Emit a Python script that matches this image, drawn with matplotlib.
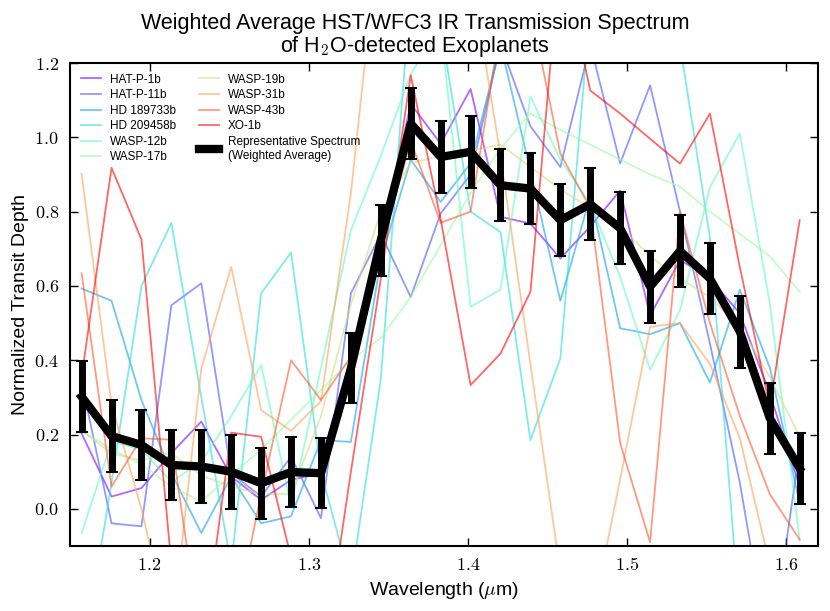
import numpy as np
import matplotlib
matplotlib.use("Agg")
import matplotlib.pyplot as plt
from matplotlib.ticker import FuncFormatter, MultipleLocator

plt.rcParams['font.family'] = ['Liberation Sans', 'DejaVu Sans']
plt.rcParams['mathtext.fontset'] = 'cm'

wavelength = [1.1573, 1.1761, 1.1949, 1.2137, 1.2325, 1.2513, 1.2701, 1.2889,
              1.3077, 1.3265, 1.3453, 1.3641, 1.3829, 1.4017, 1.4205, 1.4393,
              1.4581, 1.4769, 1.4957, 1.5145, 1.5333, 1.5521, 1.5709, 1.5897, 1.6085]

planets = ['HAT-P-1b', 'HAT-P-11b', 'HD 189733b', 'HD 209458b', 'WASP-12b',
           'WASP-17b', 'WASP-19b', 'WASP-31b', 'WASP-43b', 'XO-1b']

hat_p_1b = [0.203, 0.033, 0.056, 0.15, 0.235, 0.087, 0.024, 0.078, 0.096, 0.38, 0.72, 1.09, 0.983,
            1.13, 0.786, 0.768, 0.674, 0.76, 0.857, 0.52, 0.67, 0.62, 0.526, 0.31, 0.06]
hat_p_11b = [0.342, -0.039, -0.047, 0.548, 0.607, 0.096, 0.033, 0.14, -0.025, 0.58, 0.74, 0.57, 0.795,
             0.90, 1.25, 1.03, 0.92, 1.25, 0.93, 1.14, 0.80, 0.445, 0.07, -0.4, 0.16]
hd_189733b = [0.593, 0.56, 0.293, 0.096, -0.065, 0.087, -0.039, -0.02, 0.185, 0.18, 0.67, 0.94, 0.826,
              0.93, 1.25, 0.91, 0.56, 0.84, 0.486, 0.47, 0.50, 0.34, 0.59, 0.38, 0.015]
hd_209458b = [-0.42, 0.07, 0.6, 0.77, 0.3, -0.15, 0.58, 0.69, 0.1, -0.2, 0.35, 1.4, 1.3,
              0.80, 0.745, 0.185, 0.405, 1.35, 1.3, 1.3, 1.25, 0.73, -0.3, -0.4, -0.2]
wasp_12b = [-0.065, 0.18, 0.16, 0.073, 0.127, 0.25, 0.387, 0.006, 0.38, 0.75, 0.95, 1.17, 1.3,
            0.544, 0.59, 1.11, 0.94, 0.82, 0.625, 0.374, 0.535, 0.866, 1.01, 0.553, -0.083]
wasp_17b = [0.21, 0.16, 0.12, 0.06, 0.02, 0.09, 0.16, 0.24, 0.32, 0.40, 0.46, 0.57, 0.71,
            0.85, 0.97, 1.064, 1.02, 0.98, 0.94, 0.90, 0.867, 0.80, 0.74, 0.68, 0.584]
wasp_19b = [0.21, 0.15, 0.13, 0.15, 0.09, 0.06, 0.04, 0.04, 0.25, 0.55, 0.80, 0.93, 0.95,
            0.965, 0.98, 0.92, 0.86, 0.81, 0.76, 0.68, 0.62, 0.57, 0.49, 0.355, 0.195]
wasp_31b = [0.902, 0.28, 0.0, -0.35, 0.378, 0.651, 0.266, 0.21, 0.29, 0.85, 1.6, 1.25, 1.3,
            1.45, 0.95, 0.39, -0.17, -0.32, 0.08, 0.49, 0.50, 0.39, 0.19, -0.15, -0.4]
wasp_43b = [0.634, 0.06, 0.19, 0.186, -0.37, -0.35, 0.04, 0.40, 0.293, 0.41, 0.70, 0.99, 0.77,
            0.80, 1.3, 1.35, 0.956, 0.81, 0.177, -0.09, 0.80, 0.50, 0.25, 0.04, -0.083]
xo_1b = [0.356, 0.918, 0.725, -0.15, -0.4, 0.205, 0.194, -0.13, -0.445, 0.1, 0.62, 1.167, 0.78,
         0.333, 0.418, 0.584, 1.5, 1.126, 1.064, 0.996, 0.929, 1.064, 0.65, 0.275, 0.777]

series = [hat_p_1b, hat_p_11b, hd_189733b, hd_209458b, wasp_12b,
          wasp_17b, wasp_19b, wasp_31b, wasp_43b, xo_1b]

representative = [0.302, 0.196, 0.172, 0.118, 0.114, 0.10, 0.069, 0.099, 0.096, 0.378, 0.723, 1.037,
                  0.947, 0.961, 0.871, 0.862, 0.777, 0.82, 0.755, 0.598, 0.694, 0.62, 0.477, 0.244, 0.109]
rep_err = [0.096, 0.096, 0.095, 0.095, 0.097, 0.10, 0.096, 0.094, 0.095, 0.094, 0.096, 0.096,
           0.096, 0.097, 0.097, 0.096, 0.097, 0.097, 0.097, 0.097, 0.096, 0.096, 0.097, 0.096, 0.096]

fig = plt.figure(figsize=(8.3, 6.11), dpi=100)
ax = fig.add_axes([70/830, 1-546/611, (818-70)/830, (546-63)/611])

colors = plt.cm.rainbow(np.linspace(0, 1, len(planets)))
for name, vals, c in zip(planets, series, colors):
    ax.plot(wavelength, vals, color=c, alpha=0.6, lw=1.3, label=name)

ax.plot(wavelength, representative, color='black', lw=6, zorder=5,
        label='Representative Spectrum\n(Weighted Average)')
ax.errorbar(wavelength, representative, yerr=rep_err, fmt='none', ecolor='black',
            elinewidth=5, capsize=4, capthick=1.5, zorder=5)

ax.set_xlim(1.15, 1.62)
ax.set_ylim(-0.1, 1.2)
ax.xaxis.set_major_locator(MultipleLocator(0.1))
ax.yaxis.set_major_locator(MultipleLocator(0.2))
fmt = FuncFormatter(lambda v, p: r'$%.1f$' % v)
ax.xaxis.set_major_formatter(fmt)
ax.yaxis.set_major_formatter(fmt)
ax.tick_params(direction='in', top=True, right=True, length=6, width=1, labelsize=13, pad=8)
for s in ax.spines.values():
    s.set_linewidth(1.5)

ax.set_xlabel(r'Wavelength ($\mu$m)', fontsize=14)
ax.set_ylabel('Normalized Transit Depth', fontsize=14)
fig.suptitle('Weighted Average HST/WFC3 IR Transmission Spectrum\nof H$_2$O-detected Exoplanets',
             fontsize=15.5, y=0.978, linespacing=0.95)

leg = ax.legend(loc='upper left', ncol=2, fontsize=8.5, frameon=False,
                handlelength=1.7, labelspacing=0.3, columnspacing=1.9,
                borderaxespad=0.5, handletextpad=0.8)

fig.savefig('out.png', dpi=100, facecolor='white')
